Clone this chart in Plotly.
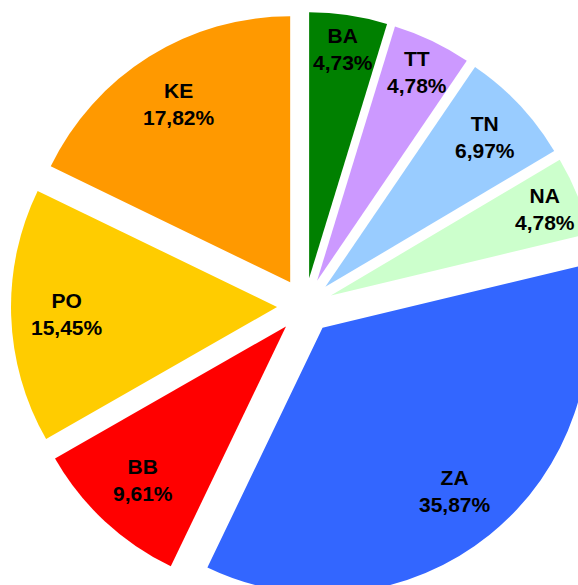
import math
import plotly.graph_objects as go

labels = ["BA", "TT", "TN", "NA", "ZA", "BB", "PO", "KE"]
values = [4.73, 4.78, 6.97, 4.78, 35.87, 9.61, 15.45, 17.82]
pct_text = ["4,73%", "4,78%", "6,97%", "4,78%", "35,87%", "9,61%", "15,45%", "17,82%"]
colors = ["#008000", "#CC99FF", "#99CCFF", "#CCFFCC", "#3366FF", "#FF0000", "#FFCC00", "#FF9900"]

W, H = 610, 610
ML, MT, MR, MB = 11, 12, 11, 10
PULL = 0.105
pw = W - ML - MR
ph = H - MT - MB
cx = ML + pw / 2
cy = MT + ph / 2
R = min(pw, ph) / (2 * (1 + PULL))

FONT = dict(family="Liberation Sans, Arial, sans-serif", size=21, color="#000000", weight="bold")

total = sum(values)
annotations = []
cum = 0.0
for lab, v, t in zip(labels, values, pct_text):
    a0 = cum / total * 2 * math.pi
    cum += v
    a1 = cum / total * 2 * math.pi
    mid = (a0 + a1) / 2
    half = (a1 - a0) / 2
    s = math.sin(min(half, math.pi / 2))
    frac = max(1 - s / (1 + s), 0.79)
    dist = PULL * R + frac * R
    px = cx + dist * math.sin(mid)
    py = cy - dist * math.cos(mid)
    annotations.append(dict(
        x=(px - ML) / pw, y=1 - (py - MT) / ph, xref="paper", yref="paper",
        text=f"{lab}<br>{t}", showarrow=False, xanchor="center", yanchor="middle",
        font=FONT,
    ))

fig = go.Figure(go.Pie(
    labels=labels,
    values=values,
    sort=False,
    direction="clockwise",
    rotation=0,
    pull=[PULL] * len(values),
    marker=dict(colors=colors, line=dict(width=0)),
    textinfo="none",
    hoverinfo="label+percent",
    showlegend=False,
))

fig.update_layout(
    width=W, height=H,
    margin=dict(l=ML, r=MR, t=MT, b=MB),
    paper_bgcolor="#FFFFFF",
    plot_bgcolor="#FFFFFF",
    annotations=annotations,
    showlegend=False,
)

fig.write_html(
    "out.html",
    config={"displayModeBar": False},
    post_script=(
        "document.body.style.margin='0';"
        "document.body.style.overflow='hidden';"
        "document.documentElement.style.overflow='hidden';"
    ),
)
